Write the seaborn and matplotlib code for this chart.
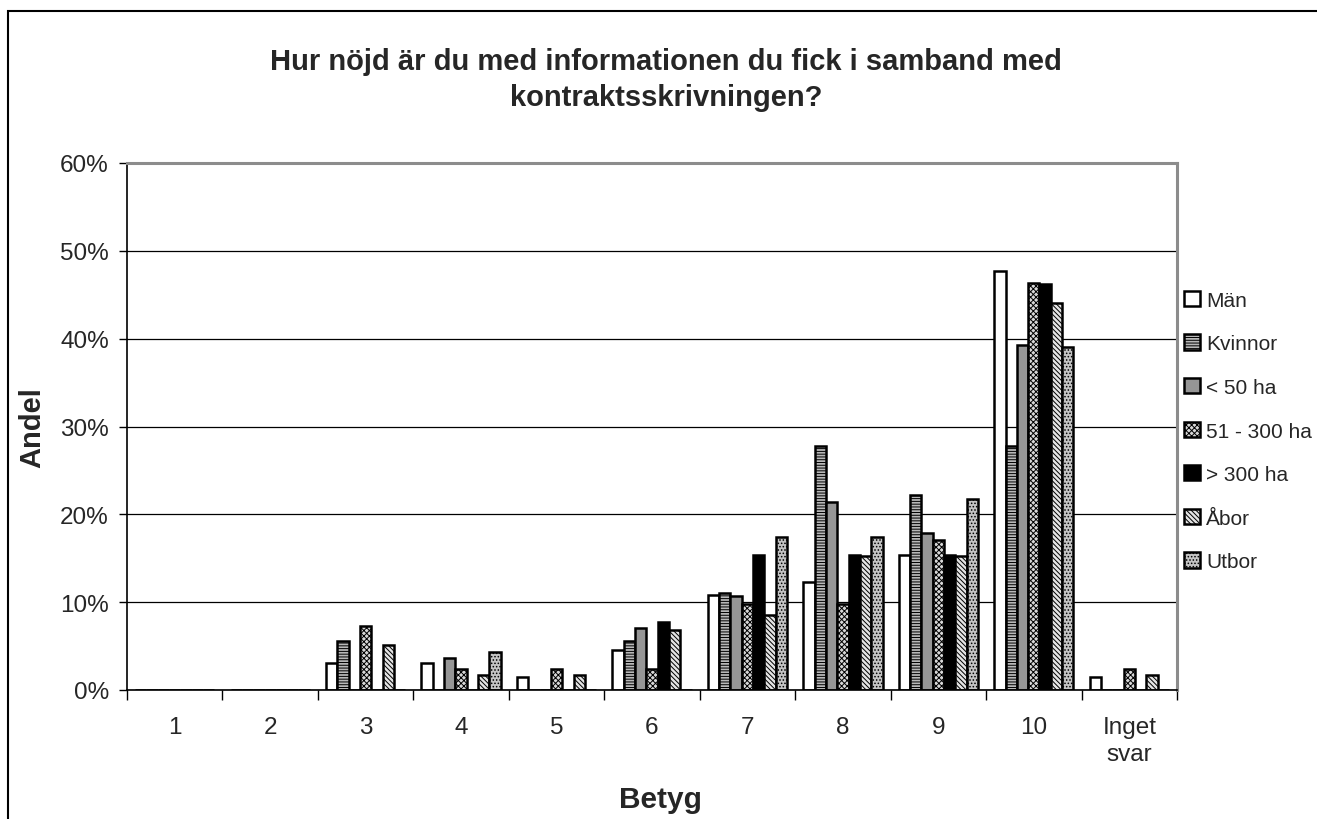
import numpy as np
import pandas as pd
import matplotlib
matplotlib.use('Agg')
import matplotlib.pyplot as plt
from matplotlib.patches import Rectangle, Patch
from matplotlib.ticker import PercentFormatter
import seaborn as sns

# Data (in %)
betyg = ['1', '2', '3', '4', '5', '6', '7', '8', '9', '10', 'Inget\nsvar']
grupper = ['Män', 'Kvinnor', '< 50 ha', '51 - 300 ha', '> 300 ha', 'Åbor', 'Utbor']

man = [0, 0, 3.1, 3.1, 1.5, 4.6, 10.8, 12.3, 15.4, 47.7, 1.5]
kvinnor = [0, 0, 5.6, 0, 0, 5.6, 11.1, 27.8, 22.2, 27.8, 0]
under_50 = [0, 0, 0, 3.6, 0, 7.1, 10.7, 21.4, 17.9, 39.3, 0]
mellan_51_300 = [0, 0, 7.3, 2.4, 2.4, 2.4, 9.8, 9.8, 17.1, 46.3, 2.4]
over_300 = [0, 0, 0, 0, 0, 7.7, 15.4, 15.4, 15.4, 46.2, 0]
abor = [0, 0, 5.1, 1.7, 1.7, 6.8, 8.5, 15.3, 15.3, 44.1, 1.7]
utbor = [0, 0, 0, 4.3, 0, 0, 17.4, 17.4, 21.7, 39.1, 0]

serier = [man, kvinnor, under_50, mellan_51_300, over_300, abor, utbor]

# Styles per group: facecolor, hatch
stil = {
    'Män': ('white', None),
    'Kvinnor': ('#b8b8b8', '------'),
    '< 50 ha': ('#969696', None),
    '51 - 300 ha': ('#d8d8d8', 'xxxxxx'),
    '> 300 ha': ('black', None),
    'Åbor': ('#e4e4e4', '\\\\\\\\\\\\\\'),
    'Utbor': ('#c4c4c4', '.....'),
}

rows = []
for g, vals in zip(grupper, serier):
    for b, v in zip(betyg, vals):
        rows.append({'Betyg': b, 'Andel': v / 100.0, 'Grupp': g})
df = pd.DataFrame(rows)

sns.set_style('white')
plt.rcParams['font.family'] = ['Liberation Sans', 'DejaVu Sans']
plt.rcParams['hatch.linewidth'] = 0.7
plt.rcParams['hatch.color'] = 'black'

W, H = 1317, 820
fig = plt.figure(figsize=(W / 100, H / 100), dpi=100)
ax = fig.add_axes([127 / W, 1 - 691 / H, (1177 - 127) / W, (691 - 164) / H])

sns.barplot(data=df, x='Betyg', y='Andel', hue='Grupp', order=betyg,
            hue_order=grupper, width=0.83, ax=ax, legend=False,
            errorbar=None, saturation=1)

for cont, g in zip(ax.containers, grupper):
    fc, hatch = stil[g]
    for bar in cont:
        bar.set_facecolor(fc)
        bar.set_edgecolor('black')
        bar.set_linewidth(1.8)
        if hatch:
            bar.set_hatch(hatch)

ax.set_xlim(-0.5, len(betyg) - 0.5)
ax.set_ylim(0, 0.6)
ax.set_yticks(np.arange(0, 0.61, 0.1))
ax.yaxis.set_major_formatter(PercentFormatter(1.0, decimals=0))
ax.yaxis.grid(True, color='black', lw=0.9)
ax.set_axisbelow(True)

ax.set_xticks(range(len(betyg)))
ax.set_xticklabels(betyg, fontsize=17.5, linespacing=1.3)
ax.set_xticks(np.arange(-0.5, len(betyg), 1), minor=True)
ax.tick_params(axis='x', which='major', length=0, pad=19)
ax.tick_params(axis='x', which='minor', length=7, width=1, direction='out',
               color='black', bottom=True)
ax.tick_params(axis='y', which='major', length=6, width=1, direction='out',
               color='black', labelsize=17.5, pad=7, left=True)

for side in ['left', 'bottom']:
    ax.spines[side].set_color('black')
    ax.spines[side].set_linewidth(1.2)
for side in ['top', 'right']:
    ax.spines[side].set_visible(True)
    ax.spines[side].set_color('#8c8c8c')
    ax.spines[side].set_linewidth(2.2)

ax.set_xlabel('')
ax.set_ylabel('')
fig.text(660 / W, 1 - 800 / H, 'Betyg', ha='center', va='center',
         fontsize=21.5, fontweight='bold')
fig.text(32 / W, 1 - 428 / H, 'Andel', ha='center', va='center',
         fontsize=21, fontweight='bold', rotation=90)
fig.text(666 / W, 1 - 80 / H,
         'Hur nöjd är du med informationen du fick i samband med\nkontraktsskrivningen?',
         ha='center', va='center', fontsize=21, fontweight='bold',
         linespacing=1.35)

handles = []
for g in grupper:
    fc, hatch = stil[g]
    handles.append(Patch(facecolor=fc, edgecolor='black', hatch=hatch,
                         linewidth=1.8, label=g))
fig.legend(handles=handles, loc='center left',
           bbox_to_anchor=(1184 / W, 1 - 432 / H), frameon=False,
           fontsize=15, handlelength=0.75, handleheight=0.75,
           handletextpad=0.3, labelspacing=1.18, borderaxespad=0,
           borderpad=0)

# outer chart frame
fig.add_artist(Rectangle((8 / W, -0.05), 1.1, (H - 12) / H + 0.05,
                         transform=fig.transFigure, fill=False,
                         edgecolor='black', lw=1.5))

fig.savefig('out.png', dpi=100)
